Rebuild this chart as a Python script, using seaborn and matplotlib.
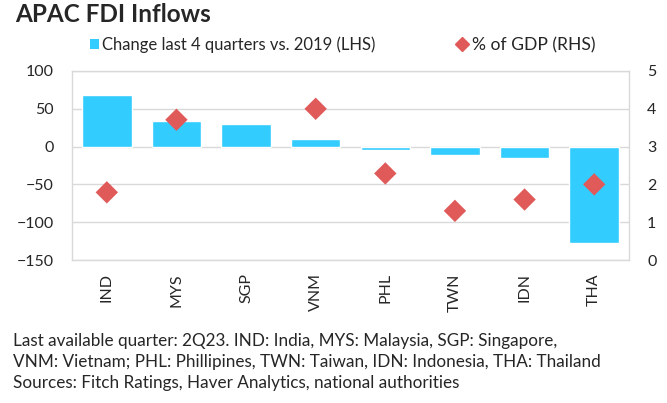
import matplotlib
matplotlib.use("Agg")
import matplotlib.pyplot as plt
import seaborn as sns
import pandas as pd
from matplotlib.patches import Patch
from matplotlib.lines import Line2D

countries = ["IND", "MYS", "SGP", "VNM", "PHL", "TWN", "IDN", "THA"]
change_vs_2019 = [67.6, 33.3, 29.3, 10.2, -3.9, -10.5, -15.3, -127.0]
pct_gdp = [1.79, 3.71, None, 4.0, 2.29, 1.3, 1.6, 2.0]
left_ticks = [-150, -100, -50, 0, 50, 100]
right_ticks = [0, 1, 2, 3, 4, 5]

bar_color = "#33CCFF"
dot_color = "#E05A5A"
grid_color = "#D9D9D9"
text_color = "#262626"

sns.set_theme(style="white")
plt.rcParams["font.family"] = ["Lato", "DejaVu Sans"]

df = pd.DataFrame({"country": countries, "change": change_vs_2019, "gdp": pct_gdp})

fig = plt.figure(figsize=(6.67, 4.03), dpi=100)
ax = fig.add_axes([72 / 667, 1 - 260 / 403, 557 / 667, 189 / 403])

sns.barplot(data=df, x="country", y="change", color=bar_color, width=0.71,
            saturation=1, ax=ax, zorder=2)
ax.set_ylim(-150, 100)
ax.set_yticks(left_ticks)
ax.yaxis.grid(True, color=grid_color, linewidth=1, zorder=0)
ax.set_axisbelow(True)
ax.set_xlabel("")
ax.set_ylabel("")
ax.tick_params(axis="y", length=0, labelsize=11.5, labelcolor=text_color, pad=13)
ax.tick_params(axis="x", length=0, labelsize=11.5, labelcolor=text_color, pad=9.5)
for lbl in ax.get_xticklabels():
    lbl.set_rotation(90)
for s in ax.spines.values():
    s.set_color(grid_color)
    s.set_linewidth(1)

ax2 = ax.twinx()
gdf = df.dropna(subset=["gdp"])
sns.scatterplot(data=gdf, x="country", y="gdp", marker="D", s=130, color=dot_color,
                edgecolor="none", ax=ax2, zorder=3)
ax2.set_ylim(0, 5)
ax2.set_yticks(right_ticks)
ax2.set_ylabel("")
ax2.tick_params(axis="y", length=0, labelsize=11.5, labelcolor=text_color, pad=13)
for s in ax2.spines.values():
    s.set_visible(False)
ax.set_xlim(-0.5, len(countries) - 0.5)

fig.text(15 / 667, 1 - 14 / 403, "APAC FDI Inflows", fontsize=17.5, fontweight="bold",
         color=text_color, va="center", ha="left")

fig.legend([Patch(facecolor=bar_color, edgecolor="none")],
           ["Change last 4 quarters vs. 2019 (LHS)"],
           loc="center left", bbox_to_anchor=(90 / 667, 1 - 45 / 403),
           frameon=False, fontsize=12, handlelength=0.55, handleheight=0.55,
           handletextpad=0.2, borderpad=0, borderaxespad=0, labelcolor=text_color)
fig.legend([Line2D([], [], marker="D", color=dot_color, linestyle="none", markersize=7)],
           ["% of GDP (RHS)"],
           loc="center left", bbox_to_anchor=(455 / 667, 1 - 45 / 403),
           frameon=False, fontsize=12.6, handlelength=0.75, handletextpad=0.2,
           borderpad=0, borderaxespad=0, labelcolor=text_color)

footer = ("Last available quarter: 2Q23. IND: India, MYS: Malaysia, SGP: Singapore,\n"
          "VNM: Vietnam; PHL: Phillipines, TWN: Taiwan, IDN: Indonesia, THA: Thailand\n"
          "Sources: Fitch Ratings, Haver Analytics, national authorities")
fig.text(13 / 667, 1 - 333 / 403, footer, fontsize=12.3, color=text_color, va="top",
         ha="left", linespacing=1.38)

fig.savefig("out.png", dpi=100)
